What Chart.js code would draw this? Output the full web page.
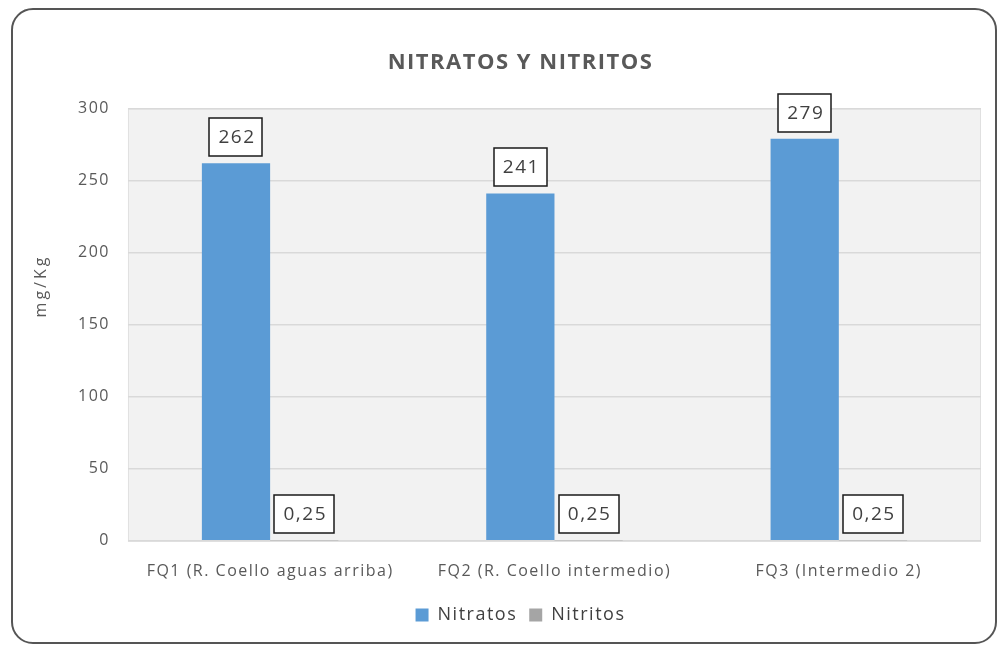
<!DOCTYPE html>
<html>
<head>
<meta charset="utf-8">
<script src="https://cdn.jsdelivr.net/npm/chart.js@4"></script>
<style>
    html, body { margin: 0; padding: 0; background: #fff; }
    #wrap { position: relative; width: 1000px; height: 647px; overflow: hidden; }
    #card {
        position: absolute; left: 11px; top: 8px; width: 986px; height: 636px;
        border: 2px solid #555; border-radius: 22px; box-sizing: border-box;
        pointer-events: none;
    }
</style>
</head>
<body>
<div id="wrap">
    <canvas id="chart" width="1000" height="647"></canvas>
    <div id="card"></div>
</div>
<script>
// datos
const categories = ['FQ1 (R. Coello aguas arriba)', 'FQ2 (R. Coello intermedio)', 'FQ3 (Intermedio 2)'];
const nitratos = [262, 241, 279];
const nitritos = [0.25, 0.25, 0.25];
const yTicks = [0, 50, 100, 150, 200, 250, 300];

const FONT = "'Open Sans', sans-serif";
const SPACING = '1.5px';

// espaciado de letras para todo el texto del canvas
const spacing = {
    id: 'spacing',
    beforeLayout: (chart) => { chart.ctx.letterSpacing = SPACING; },
    beforeDraw: (chart) => { chart.ctx.letterSpacing = SPACING; }
};

// fondo gris del area del grafico
const plotBg = {
    id: 'plotBg',
    beforeDraw: (chart) => {
        const { ctx, chartArea: { left, top, width, height } } = chart;
        ctx.save();
        ctx.fillStyle = '#f2f2f2';
        ctx.fillRect(left, top, width, height);
        ctx.strokeStyle = '#e0e0e0';
        ctx.lineWidth = 1;
        ctx.strokeRect(left + 0.5, top + 0.5, width - 1, height);
        ctx.restore();
    }
};

// etiquetas con recuadro encima de cada barra
const boxLabels = {
    id: 'boxLabels',
    afterDatasetsDraw: (chart) => {
        const { ctx } = chart;
        ctx.save();
        ctx.font = '19px ' + FONT;
        ctx.textAlign = 'center';
        ctx.textBaseline = 'middle';
        chart.data.datasets.forEach((ds, i) => {
            chart.getDatasetMeta(i).data.forEach((bar, j) => {
                const txt = String(ds.data[j]).replace('.', ',');
                const w = Math.round(ctx.measureText(txt).width + 16);
                const h = 38;
                const x = Math.round(bar.x - w / 2);
                const y = Math.round(bar.y - 7 - h);
                ctx.fillStyle = '#fff';
                ctx.fillRect(x, y, w, h);
                ctx.strokeStyle = '#1a1a1a';
                ctx.lineWidth = 1.5;
                ctx.strokeRect(x, y, w, h);
                ctx.fillStyle = '#404040';
                ctx.fillText(txt, bar.x + 1, y + h / 2 + 1);
            });
        });
        ctx.restore();
    }
};

// titulo del eje Y
const yTitle = {
    id: 'yTitle',
    afterDraw: (chart) => {
        const { ctx } = chart;
        ctx.save();
        ctx.translate(41, 286);
        ctx.rotate(-Math.PI / 2);
        ctx.font = '16px ' + FONT;
        ctx.letterSpacing = '3px';
        ctx.fillStyle = '#595959';
        ctx.textAlign = 'center';
        ctx.textBaseline = 'middle';
        ctx.fillText('mg/Kg', 0, 0);
        ctx.restore();
    }
};

new Chart(document.getElementById('chart'), {
    type: 'bar',
    data: {
        labels: categories,
        datasets: [
            { label: 'Nitratos', data: nitratos, backgroundColor: '#5b9bd5' },
            { label: 'Nitritos', data: nitritos, backgroundColor: '#a5a5a5' }
        ]
    },
    options: {
        responsive: false,
        animation: false,
        layout: { padding: { left: 60, right: 19, top: 40, bottom: 13 } },
        categoryPercentage: 0.48,
        barPercentage: 1,
        plugins: {
            title: {
                display: true,
                text: 'NITRATOS Y NITRITOS',
                color: '#595959',
                font: { family: FONT, size: 22, weight: 'bold' },
                padding: { top: 10, bottom: 32 }
            },
            legend: {
                position: 'bottom',
                labels: {
                    color: '#404040',
                    font: { family: FONT, size: 18 },
                    boxWidth: 13,
                    boxHeight: 13,
                    padding: 12
                }
            },
            tooltip: { enabled: false }
        },
        scales: {
            x: {
                grid: { display: false },
                border: { display: false },
                ticks: { color: '#595959', font: { family: FONT, size: 16 }, padding: 13 }
            },
            y: {
                min: 0,
                max: 300,
                afterBuildTicks: (axis) => { axis.ticks = yTicks.map(v => ({ value: v })); },
                grid: { color: '#d9d9d9', lineWidth: 1.5, drawTicks: false },
                border: { display: false },
                ticks: { color: '#595959', font: { family: FONT, size: 16 }, padding: 18 }
            }
        }
    },
    plugins: [spacing, plotBg, boxLabels, yTitle]
});
</script>
</body>
</html>
